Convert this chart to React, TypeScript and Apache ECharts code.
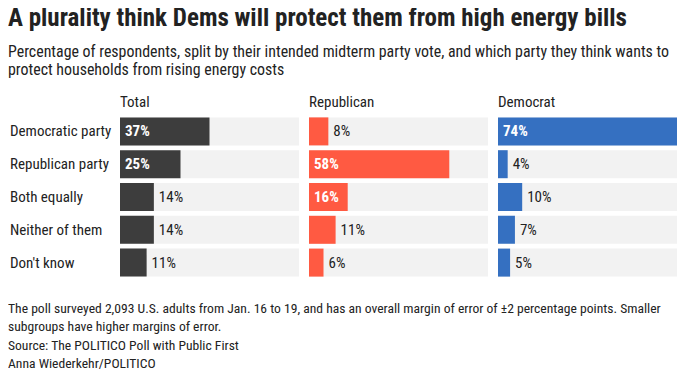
import React, { useEffect, useRef } from "react";
import * as echarts from "echarts";

const categories = ["Democratic party", "Republican party", "Both equally", "Neither of them", "Don't know"];
const panels = ["Total", "Republican", "Democrat"];
const totalValues = [37, 25, 14, 14, 11];
const republicanValues = [8, 58, 16, 11, 6];
const democratValues = [74, 4, 10, 7, 5];
const panelColors = ["#3d3d3d", "#ff5a42", "#3570c1"];

const titleText = "A plurality think Dems will protect them from high energy bills";
const subtitleText =
  "Percentage of respondents, split by their intended midterm party vote, and which party they think wants to\nprotect households from rising energy costs";
const footerText =
  "The poll surveyed 2,093 U.S. adults from Jan. 16 to 19, and has an overall margin of error of ±2 percentage points. Smaller\nsubgroups have higher margins of error.\nSource: The POLITICO Poll with Public First\nAnna Wiederkehr/POLITICO";

const FONT = "'Roboto Condensed', 'Liberation Sans Narrow', sans-serif";

export default function App() {
  const ref = useRef<HTMLDivElement>(null);
  useEffect(() => {
    if (!ref.current) return;
    const chart = echarts.init(ref.current, null, { renderer: "svg" });
    const seriesValues = [totalValues, republicanValues, democratValues];
    const lefts = [120, 309, 498];
    const grids = lefts.map((l) => ({ left: l, width: 179, top: 115, height: 164 }));
    const xAxes = lefts.map((_, i) => ({
      type: "value" as const,
      gridIndex: i,
      min: 0,
      max: 74,
      show: false,
    }));
    const yAxes = lefts.map((_, i) => ({
      type: "category" as const,
      gridIndex: i,
      data: categories,
      inverse: true,
      axisLine: { show: false },
      axisTick: { show: false },
      splitLine: { show: false },
      axisLabel: {
        show: i === 0,
        align: "left" as const,
        margin: 110,
        fontFamily: FONT,
        fontSize: 15,
        color: "#222",
      },
    }));
    const series = seriesValues.map((vals, i) => ({
      type: "bar" as const,
      xAxisIndex: i,
      yAxisIndex: i,
      barWidth: 28,
      showBackground: true,
      backgroundStyle: { color: "#f2f2f2" },
      itemStyle: { color: panelColors[i] },
      data: vals.map((v) => ({
        value: v,
        label:
          v >= 15
            ? {
                show: true,
                position: "insideLeft",
                distance: 5,
                color: "#fff",
                fontWeight: "bold",
                fontFamily: FONT,
                fontSize: 15,
                formatter: "{c}%",
              }
            : {
                show: true,
                position: "right",
                distance: 5,
                color: "#222",
                fontFamily: FONT,
                fontSize: 15,
                formatter: "{c}%",
              },
      })),
    }));
    const graphic: any[] = [
      {
        type: "text",
        left: 8,
        top: 5,
        style: { text: titleText, font: `bold 25px ${FONT}`, fill: "#222" },
      },
      {
        type: "text",
        left: 8,
        top: 42,
        style: { text: subtitleText, font: `15.9px ${FONT}`, fill: "#222", lineHeight: 18 },
      },
      ...panels.map((p, i) => ({
        type: "text",
        left: lefts[i],
        top: 94,
        style: { text: p, font: `15px ${FONT}`, fill: "#222" },
      })),
      {
        type: "text",
        left: 8,
        top: 299,
        style: { text: footerText, font: `13.6px ${FONT}`, fill: "#222", lineHeight: 18.3 },
      },
    ];
    chart.setOption({
      animation: false,
      backgroundColor: "#fff",
      grid: grids,
      xAxis: xAxes,
      yAxis: yAxes,
      series,
      graphic,
    });
    return () => chart.dispose();
  }, []);
  return <div ref={ref} style={{ width: 687, height: 379, margin: -8 }} />;
}
